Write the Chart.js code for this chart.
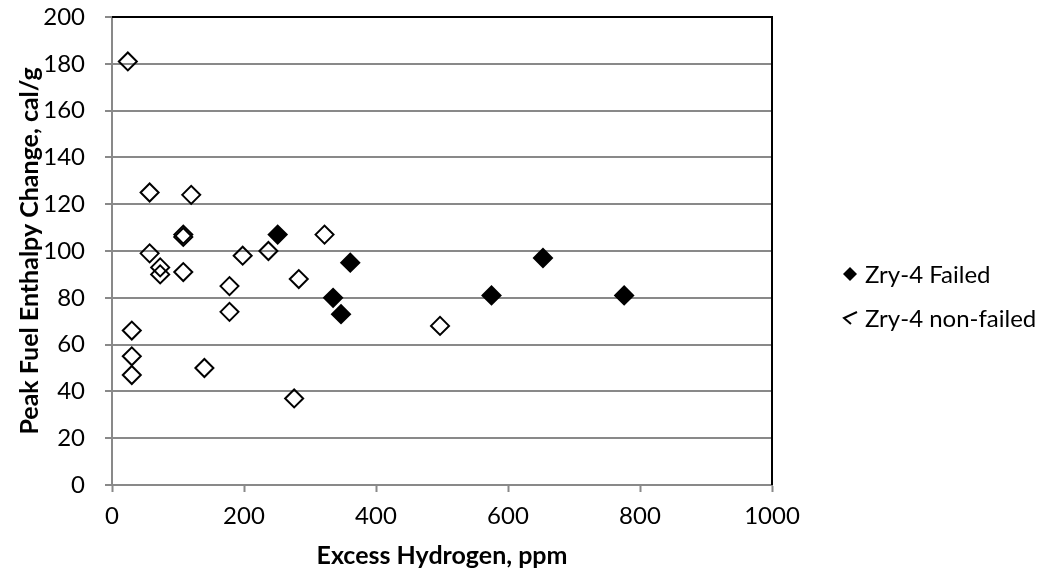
<!DOCTYPE html>
<html>
<head>
<meta charset="utf-8">
<title>Peak Fuel Enthalpy Change vs Excess Hydrogen</title>
<script src="https://cdn.jsdelivr.net/npm/chart.js@4"></script>
<style>
    body { margin: 0; background: #fff; }
    #wrap { width: 1047px; height: 571px; }
</style>
</head>
<body>
<div id="wrap"><canvas id="enthalpyChart" width="1047" height="571"></canvas></div>
<script>
// Zry-4 rods that failed: excess hydrogen (ppm) and peak enthalpy change (cal/g)
const failedH = [251, 335, 347, 361, 575, 653, 776];
const failedDH = [107, 80, 73, 95, 81, 97, 81];

// Zry-4 rods that did not fail
const nonFailedH = [24, 57, 120, 108, 108, 57, 73, 73, 108, 198, 237, 178, 178, 30, 30, 30, 140, 322, 283, 276, 497];
const nonFailedDH = [181, 125, 124, 107, 106, 99, 93, 90, 91, 98, 100, 85, 74, 66, 55, 47, 50, 107, 88, 37, 68];

const seriesNames = ['Zry-4 Failed', 'Zry-4 non-failed'];
const xTitle = 'Excess Hydrogen, ppm';
const yTitle = 'Peak Fuel Enthalpy Change, cal/g';

const FONT = 'Lato, "Liberation Sans", sans-serif';
const GRID = '#898989';

const toPoints = (xs, ys) => xs.map((x, i) => ({ x: x, y: ys[i] }));

// keep tick labels from pushing the plot area around
const noEdgePadding = (scale) => {
    scale.paddingTop = 0;
    scale.paddingBottom = 0;
    scale.paddingLeft = 0;
    scale.paddingRight = 0;
};

// black frame on the top and right of the plot, plus a hand-drawn legend on the right
const frameAndLegend = {
    id: 'frameAndLegend',
    afterDraw(chart) {
        const { ctx, chartArea } = chart;
        ctx.save();
        ctx.strokeStyle = '#000';
        ctx.lineWidth = 2;
        ctx.beginPath();
        ctx.moveTo(chartArea.left, chartArea.top);
        ctx.lineTo(chartArea.right, chartArea.top);
        ctx.lineTo(chartArea.right, chartArea.bottom);
        ctx.stroke();

        const lx = 850, rows = [274, 318];
        ctx.font = '24px ' + FONT;
        ctx.textBaseline = 'middle';
        ctx.fillStyle = '#000';
        chart.data.datasets.forEach((ds, i) => {
            const cy = rows[i];
            ctx.beginPath();
            if (i === 0) {
                ctx.moveTo(lx, cy - 7);
                ctx.lineTo(lx + 7, cy);
                ctx.lineTo(lx, cy + 7);
                ctx.lineTo(lx - 7, cy);
                ctx.closePath();
                ctx.fill();
            } else {
                ctx.moveTo(lx + 7, cy - 6);
                ctx.lineTo(lx - 6, cy);
                ctx.lineTo(lx + 1, cy + 6);
                ctx.stroke();
            }
            ctx.fillText(ds.label, 865, cy + 1);
        });
        ctx.restore();
    }
};

const ctx = document.getElementById('enthalpyChart').getContext('2d');
new Chart(ctx, {
    type: 'scatter',
    data: {
        datasets: [{
            label: seriesNames[0],
            data: toPoints(failedH, failedDH),
            pointStyle: 'rectRot',
            pointRadius: 9,
            pointBorderWidth: 2,
            backgroundColor: '#000',
            borderColor: '#000'
        }, {
            label: seriesNames[1],
            data: toPoints(nonFailedH, nonFailedDH),
            pointStyle: 'rectRot',
            pointRadius: 9,
            pointBorderWidth: 2,
            backgroundColor: 'rgba(0,0,0,0)',
            borderColor: '#000'
        }]
    },
    options: {
        responsive: false,
        animation: false,
        events: [],
        layout: { padding: { top: 17, right: 275, left: 0, bottom: 0 } },
        plugins: {
            legend: { display: false },
            tooltip: { enabled: false }
        },
        scales: {
            x: {
                type: 'linear',
                min: 0,
                max: 1000,
                afterFit: (scale) => { scale.height = 86; noEdgePadding(scale); },
                ticks: {
                    stepSize: 200,
                    padding: 10,
                    color: '#000',
                    font: { family: FONT, size: 24 },
                    callback: (v) => String(v)
                },
                grid: {
                    drawOnChartArea: false,
                    drawTicks: true,
                    tickLength: 7,
                    tickColor: GRID,
                    tickWidth: 2
                },
                border: { color: GRID, width: 2 },
                title: {
                    display: true,
                    text: xTitle,
                    color: '#000',
                    padding: { top: 6, bottom: 0 },
                    font: { family: FONT, size: 25, weight: 'bold' }
                }
            },
            y: {
                min: 0,
                max: 200,
                afterFit: (scale) => { scale.width = 112; noEdgePadding(scale); },
                ticks: {
                    stepSize: 20,
                    padding: 20,
                    color: '#000',
                    font: { family: FONT, size: 24 }
                },
                grid: {
                    color: GRID,
                    lineWidth: 2,
                    tickLength: 7,
                    tickColor: GRID,
                    tickWidth: 2
                },
                border: { color: GRID, width: 2 },
                title: {
                    display: true,
                    text: yTitle,
                    color: '#000',
                    padding: { top: 15, bottom: 0 },
                    font: { family: FONT, size: 25, weight: 'bold' }
                }
            }
        }
    },
    plugins: [frameAndLegend]
});
</script>
</body>
</html>
